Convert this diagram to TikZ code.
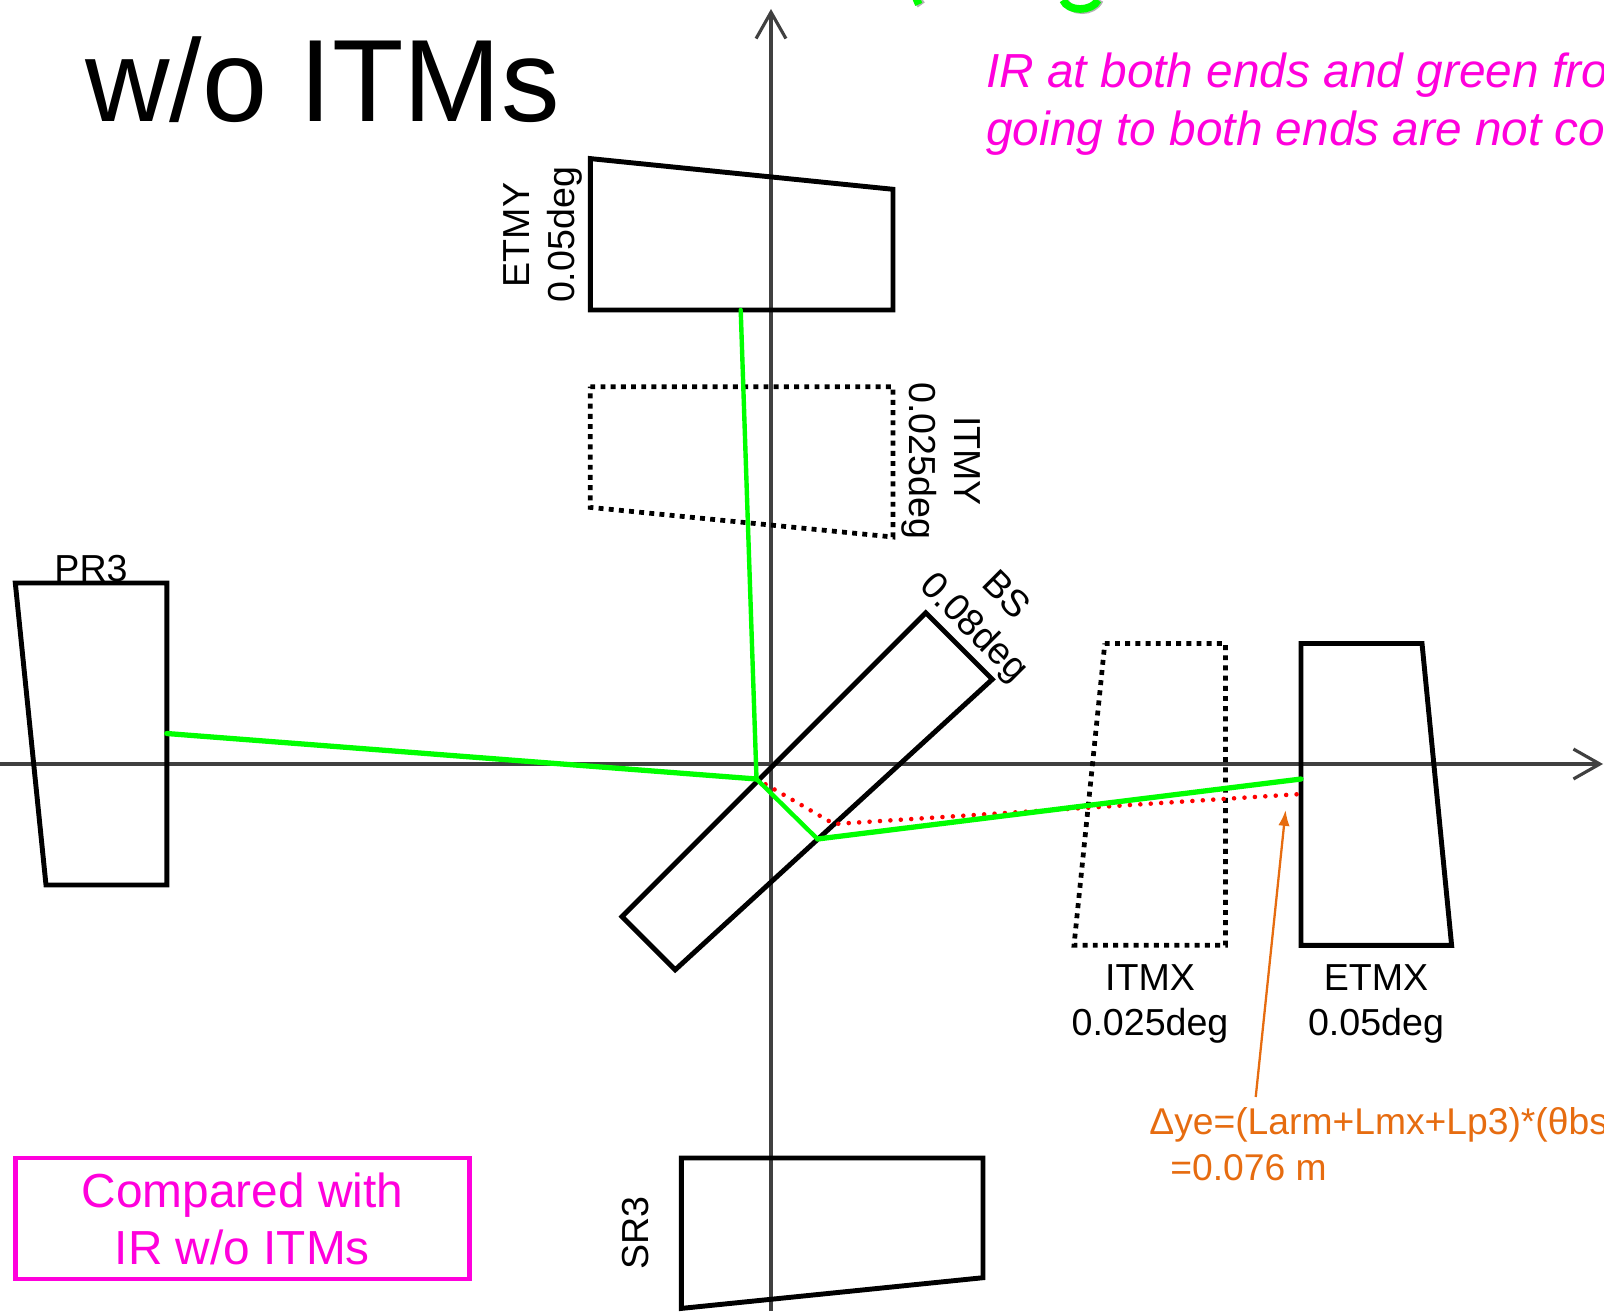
\documentclass[tikz,border=0pt]{standalone}
\usepackage{fontspec}
\setmainfont{Liberation Sans}
\usetikzlibrary{arrows.meta}
\definecolor{beamgreen}{RGB}{0,255,0}
\definecolor{notemagenta}{RGB}{255,0,220}
\definecolor{noteorange}{RGB}{230,108,16}
\definecolor{axisgray}{RGB}{64,64,64}
\tikzset{
  mirror/.style={draw=black,line width=2.8pt,line join=miter},
  itm/.style={draw=black,line width=2.7pt,dash pattern=on 2.8pt off 3pt},
  axisline/.style={draw=axisgray,line width=1.8pt,-{Straight Barb[length=15pt,width=17pt,line width=1.8pt]}},
  beam/.style={draw=beamgreen,line width=3pt,line cap=round,line join=round},
  beamthin/.style={draw=beamgreen,line width=2.5pt,line cap=round,line join=round},
  ghost/.style={draw=red,line width=2.6pt,line cap=round,dash pattern=on 0pt off 5.94pt},
  lbl/.style={inner sep=0pt,font=\fontsize{21.4}{25.6}\selectfont,align=center},
  note/.style={inner sep=0pt,anchor=base west,text=notemagenta,font=\fontsize{27.2}{33}\selectfont\itshape},
  orange/.style={inner sep=0pt,anchor=base west,text=noteorange,font=\fontsize{21.2}{25.6}\selectfont}
}
\begin{document}
\begin{tikzpicture}[x=0.02cm,y=-0.02cm]
\useasboundingbox (0,0) rectangle (1604,1311);
\coordinate (xstart) at (0,764);
\coordinate (xtip) at (1603,764);
\coordinate (ybot) at (771,1311);
\coordinate (ytip) at (771,9);
\coordinate (pr3hit) at (166.8,733.5);
\coordinate (bsfront) at (756.5,779);
\coordinate (etmyhit) at (740.7,310);
\coordinate (bsback) at (817.5,839);
\coordinate (etmxhit) at (1301,779);
\coordinate (ghostback) at (834,824);
\coordinate (ghostend) at (1301,794);
\coordinate (dyfoot) at (1255.7,1097);
\coordinate (dytip) at (1285.6,810);

\draw[axisline] (xstart) -- (xtip);
\draw[axisline] (ybot) -- (ytip);

\draw[mirror] (590.3,158.6) -- (893,189.3) -- (893,310) -- (590.3,310) -- cycle;
\draw[itm] (590.3,386.7) -- (893,386.7) -- (893,537) -- (590.3,507.4) -- cycle;
\draw[mirror] (15.3,583) -- (166.8,583) -- (166.8,885) -- (46,885) -- cycle;
\draw[mirror] (925.8,612.8) -- (992.3,679.3) -- (675.2,969.8) -- (622,916.6) -- cycle;
\draw[itm] (1104.8,643.5) -- (1225.5,643.5) -- (1225.5,945.3) -- (1074,945.3) -- cycle;
\draw[mirror] (1301,643.5) -- (1422,643.5) -- (1451.6,945.3) -- (1301,945.3) -- cycle;
\draw[mirror] (681.3,1158) -- (983,1158) -- (983,1277.7) -- (681.3,1308.4) -- cycle;

\draw[ghost] (bsfront) -- (ghostback) -- (ghostend);
\draw[beam] (pr3hit) -- (bsfront);
\draw[beamthin] (etmyhit) -- (bsfront) -- (bsback);
\draw[beam] (bsback) -- (etmxhit);

\draw[draw=noteorange,line width=1.3pt,-{Latex[length=9pt,width=6.5pt]}] (dyfoot) -- (dytip);

\draw[draw=gray!60,line width=4pt] (1065,0) .. controls (1070,14) and (1094,14) .. (1100,0);
\draw[draw=gray!60,line width=3.4pt] (923,0) -- (916,5);
\draw[draw=beamgreen,line width=4.4pt] (1063,0) .. controls (1068,12) and (1092,12) .. (1098,0);
\draw[draw=beamgreen,line width=3.6pt] (921,0) -- (914,3);

\node[inner sep=0pt,anchor=base west,font=\fontsize{66.6}{80}\selectfont] (title) at (85,122) {w/o ITMs};
\node[note] (notea) at (986,88) {IR at both ends and green fro};
\node[note] (noteb) at (986,146) {going to both ends are not co};

\node[lbl,rotate=90] (etmylbl) at (542.5,235) {ETMY\\0.05deg};
\node[lbl,rotate=-90] (itmylbl) at (941,461) {ITMY\\0.025deg};
\node[lbl] (pr3lbl) at (91,569) {PR3};
\node[lbl,rotate=-45] (bslbl) at (988.5,613) {BS\\0.08deg};
\node[lbl] (itmxlbl) at (1150,1004) {ITMX\\0.025deg};
\node[lbl] (etmxlbl) at (1376,1004) {ETMX\\0.05deg};
\node[lbl,rotate=90] (sr3lbl) at (636,1233) {SR3};

\node[orange] (dya) at (1149,1134) {Δye=(Larm+Lmx+Lp3)*(θbs};
\node[orange] (dyb) at (1170,1180) {=0.076 m};

\node[draw=notemagenta,line width=2.8pt,text=notemagenta,minimum width=454.3*0.02cm,minimum height=121*0.02cm,inner sep=0pt,align=center,font=\fontsize{27.2}{32.5}\selectfont] (cmpbox) at (242.4,1218.5) {Compared with\\IR w/o ITMs};
\end{tikzpicture}
\end{document}
